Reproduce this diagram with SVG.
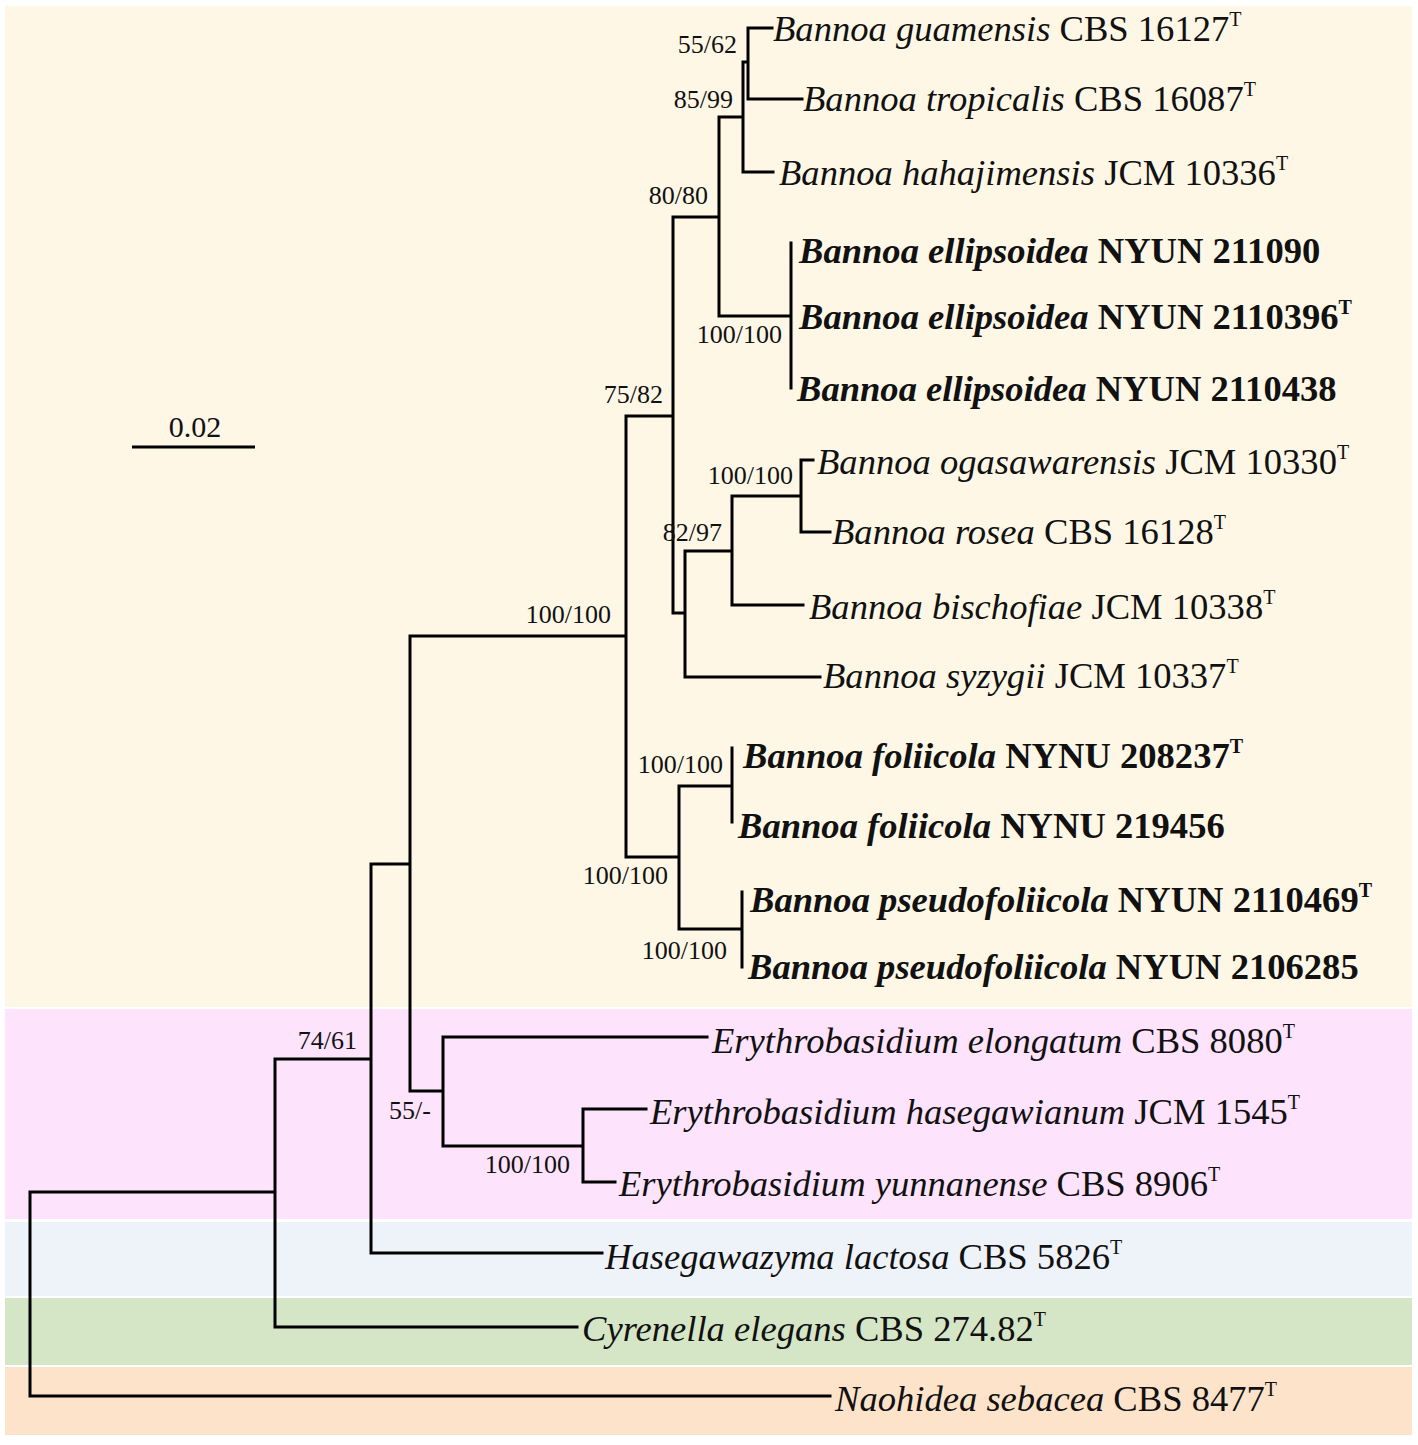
<svg xmlns="http://www.w3.org/2000/svg" width="1418" height="1445" viewBox="0 0 1418 1445">
<style>
text{font-family:"Liberation Serif","Times New Roman",serif;fill:#111}
.t{font-size:36.6px}
.i{font-style:italic}
.b{font-weight:bold}
.sup{font-size:20px}
.s{font-size:26px;text-anchor:end}
.sc{font-size:30px;text-anchor:middle}
.tree{fill:none;stroke:#000;stroke-width:3;stroke-linecap:square}
</style>
<rect x="0" y="0" width="1418" height="1445" fill="#ffffff"/>
<g id="bands">
<rect x="5" y="6" width="1407" height="1001" fill="#FEF7E6"/>
<rect x="5" y="1009" width="1407" height="210" fill="#FDE3FC"/>
<rect x="5" y="1222" width="1407" height="74" fill="#EEF2F9"/>
<rect x="5" y="1298" width="1407" height="67" fill="#D5E6C7"/>
<rect x="5" y="1367" width="1407" height="68" fill="#FDE3CA"/>
</g>
<g id="scale">
<path d="M132,447 H255" stroke="#000" stroke-width="3"/>
<text class="sc" x="195" y="437">0.02</text>
</g>
<g id="connectors">
<path class="tree" d="M30,1192 V1396 M30,1396 H830 M30,1192 H275
M275,1059 V1327 M275,1327 H577 M275,1059 H371
M371,864 V1253 M371,1253 H602 M371,864 H410
M410,636 V1091 M410,1091 H443 M410,636 H626
M443,1037 V1146 M443,1037 H707 M443,1146 H583
M583,1109 V1182 M583,1109 H646 M583,1182 H615
M626,416 V857 M626,416 H673 M626,857 H679
M673,217 V613 M673,217 H719 M673,613 H685
M719,117 V316 M719,117 H743 M719,316 H791
M743,62 V172 M743,62 H748 M743,172 H773
M748,28 V99 M748,28 H772 M748,99 H802
M791,243 V388
M685,551 V677 M685,551 H732 M685,677 H820
M732,496 V605 M732,496 H801 M732,605 H803
M801,460 V532 M801,460 H813 M801,532 H830
M679,786 V929 M679,786 H732 M679,929 H742
M732,748 V822
M742,892 V967"/>
</g>
<g id="supports">
<text class="s" x="737" y="53">55/62</text>
<text class="s" x="733" y="108">85/99</text>
<text class="s" x="708" y="204">80/80</text>
<text class="s" x="782" y="343">100/100</text>
<text class="s" x="663" y="403">75/82</text>
<text class="s" x="793" y="484">100/100</text>
<text class="s" x="722" y="541">82/97</text>
<text class="s" x="611" y="623">100/100</text>
<text class="s" x="723" y="773">100/100</text>
<text class="s" x="668" y="884">100/100</text>
<text class="s" x="727" y="959">100/100</text>
<text class="s" x="357" y="1049">74/61</text>
<text class="s" x="431" y="1119">55/-</text>
<text class="s" x="570" y="1173">100/100</text>
</g>
<g id="taxon-guamensis"><text class="t" x="773" y="41"><tspan class="i">Bannoa guamensis</tspan> CBS 16127<tspan class="sup" dy="-15">T</tspan></text></g>
<g id="taxon-tropicalis"><text class="t" x="803" y="111"><tspan class="i">Bannoa tropicalis</tspan> CBS 16087<tspan class="sup" dy="-15">T</tspan></text></g>
<g id="taxon-hahajimensis"><text class="t" x="779" y="185"><tspan class="i">Bannoa hahajimensis</tspan> JCM 10336<tspan class="sup" dy="-15">T</tspan></text></g>
<g id="taxon-ellipsoidea-211090"><text class="t b" x="799" y="263"><tspan class="i">Bannoa ellipsoidea</tspan> NYUN 211090</text></g>
<g id="taxon-ellipsoidea-2110396"><text class="t b" x="799" y="329"><tspan class="i">Bannoa ellipsoidea</tspan> NYUN 2110396<tspan class="sup" dy="-15">T</tspan></text></g>
<g id="taxon-ellipsoidea-2110438"><text class="t b" x="797" y="401"><tspan class="i">Bannoa ellipsoidea</tspan> NYUN 2110438</text></g>
<g id="taxon-ogasawarensis"><text class="t" x="817" y="474"><tspan class="i">Bannoa ogasawarensis</tspan> JCM 10330<tspan class="sup" dy="-15">T</tspan></text></g>
<g id="taxon-rosea"><text class="t" x="832" y="544"><tspan class="i">Bannoa rosea</tspan> CBS 16128<tspan class="sup" dy="-15">T</tspan></text></g>
<g id="taxon-bischofiae"><text class="t" x="809" y="619"><tspan class="i">Bannoa bischofiae</tspan> JCM 10338<tspan class="sup" dy="-15">T</tspan></text></g>
<g id="taxon-syzygii"><text class="t" x="823" y="688"><tspan class="i">Bannoa syzygii</tspan> JCM 10337<tspan class="sup" dy="-15">T</tspan></text></g>
<g id="taxon-foliicola-208237"><text class="t b" x="743" y="768"><tspan class="i">Bannoa foliicola</tspan> NYNU 208237<tspan class="sup" dy="-15">T</tspan></text></g>
<g id="taxon-foliicola-219456"><text class="t b" x="738" y="838"><tspan class="i">Bannoa foliicola</tspan> NYNU 219456</text></g>
<g id="taxon-pseudofoliicola-2110469"><text class="t b" x="750" y="912"><tspan class="i">Bannoa pseudofoliicola</tspan> NYUN 2110469<tspan class="sup" dy="-15">T</tspan></text></g>
<g id="taxon-pseudofoliicola-2106285"><text class="t b" x="748" y="979"><tspan class="i">Bannoa pseudofoliicola</tspan> NYUN 2106285</text></g>
<g id="taxon-elongatum"><text class="t" x="712" y="1053"><tspan class="i">Erythrobasidium elongatum</tspan> CBS 8080<tspan class="sup" dy="-15">T</tspan></text></g>
<g id="taxon-hasegawianum"><text class="t" x="650" y="1124"><tspan class="i">Erythrobasidium hasegawianum</tspan> JCM 1545<tspan class="sup" dy="-15">T</tspan></text></g>
<g id="taxon-yunnanense"><text class="t" x="619" y="1196"><tspan class="i">Erythrobasidium yunnanense</tspan> CBS 8906<tspan class="sup" dy="-15">T</tspan></text></g>
<g id="taxon-hasegawazyma"><text class="t" x="605" y="1269"><tspan class="i">Hasegawazyma lactosa</tspan> CBS 5826<tspan class="sup" dy="-15">T</tspan></text></g>
<g id="taxon-cyrenella"><text class="t" x="582" y="1341"><tspan class="i">Cyrenella elegans</tspan> CBS 274.82<tspan class="sup" dy="-15">T</tspan></text></g>
<g id="taxon-naohidea"><text class="t" x="835" y="1411"><tspan class="i">Naohidea sebacea</tspan> CBS 8477<tspan class="sup" dy="-15">T</tspan></text></g>
</svg>
